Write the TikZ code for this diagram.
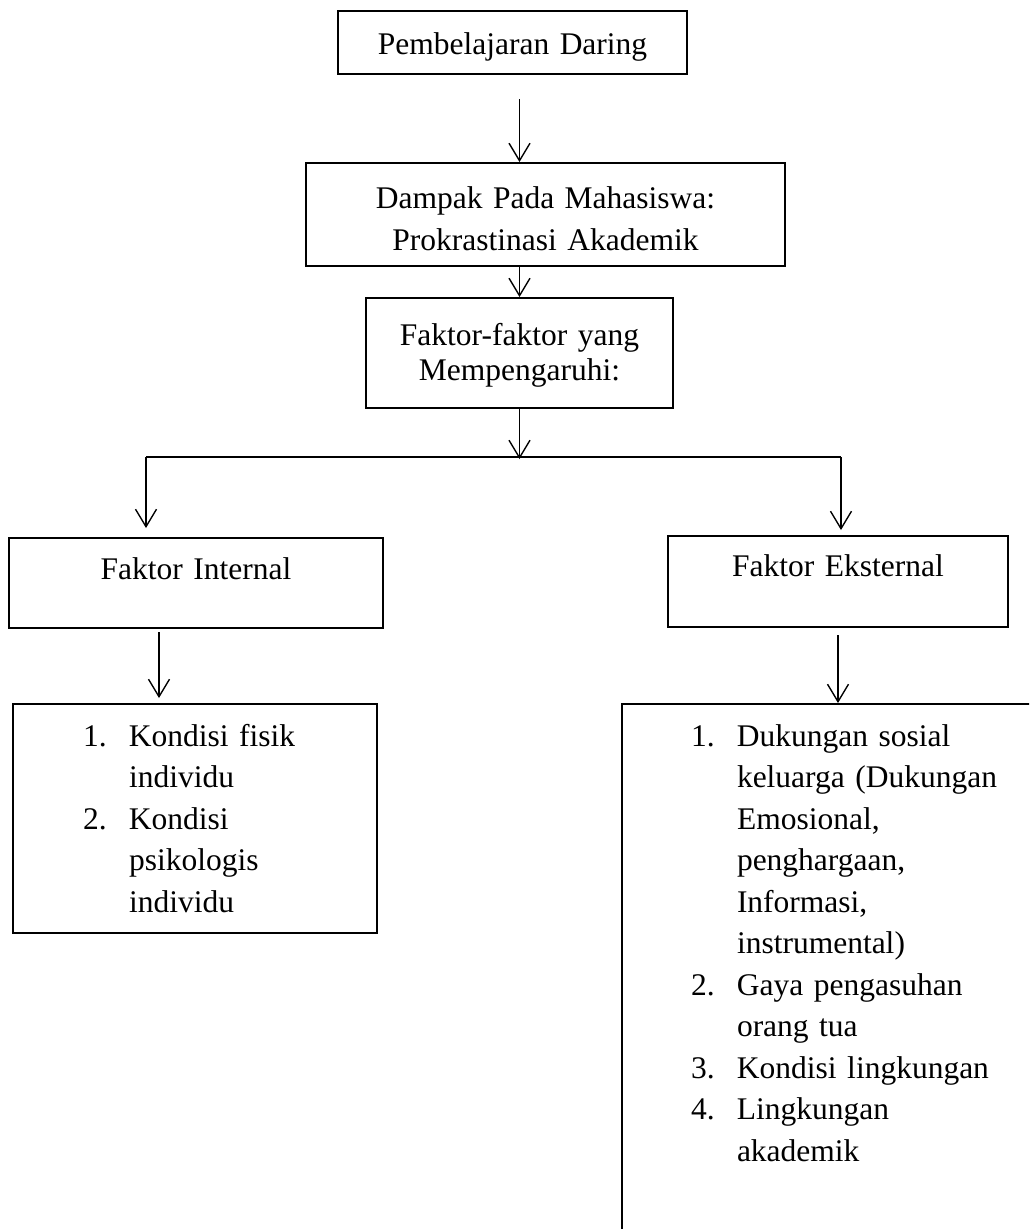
\documentclass[tikz,border=0pt]{standalone}
\usepackage{fontspec}
\setmainfont{Liberation Serif}
\usetikzlibrary{arrows.meta,calc}

\newcommand{\numitem}[1]{\makebox[18.4pt][l]{#1}}
\newcommand{\contline}{\hspace*{18.4pt}}

\begin{document}
\begin{tikzpicture}[
  x=0.4pt,y=-0.4pt,
  box/.style={draw, line width=0.8pt, anchor=north west, inner sep=0pt, align=center, font=\fontsize{12.6}{16.8}\selectfont},
  listbox/.style={box, align=left, inner xsep=28pt, font=\fontsize{12.6}{16.6}\selectfont},
  arr/.style={-{Straight Barb[length=7pt,width=8.4pt]}, line width=0.55pt},
  branch/.style={line width=0.55pt}
]
\clip (0,0) rectangle (1029,1229);
\fill[white] (0,0) rectangle (1029,1229);

\node[box, text width=139.6pt, text height=17.2pt, text depth=8pt] (daring) at (337,10) {Pembelajaran Daring};
\node[box, text width=191.6pt, text height=18pt, text depth=23.2pt] (dampak) at (305,162) {Dampak Pada Mahasiswa:\\Prokrastinasi Akademik};
\node[box, text width=122.8pt, text height=18.8pt, text depth=25.2pt, font=\fontsize{12.6}{14}\selectfont] (faktor) at (365,297) {Faktor-faktor yang\\Mempengaruhi:};
\node[box, text width=149.6pt, text height=16.4pt, text depth=19.6pt] (internal) at (8,537) {Faktor Internal};
\node[box, text width=136pt, text height=16pt, text depth=20.4pt] (eksternal) at (667,535) {Faktor Eksternal};
\node[listbox, text width=89.6pt, text height=16.8pt, text depth=74.8pt] (listint) at (12,703) {\numitem{1.}Kondisi fisik\\\contline individu\\\numitem{2.}Kondisi\\\contline psikologis\\\contline individu};
\node[listbox, inner xsep=27.6pt, text width=136.4pt, text height=16.8pt, text depth=202pt] (listeks) at (621,703) {\numitem{1.}Dukungan sosial\\\contline keluarga (Dukungan\\\contline Emosional,\\\contline penghargaan,\\\contline Informasi,\\\contline instrumental)\\\numitem{2.}Gaya pengasuhan\\\contline orang tua\\\numitem{3.}Kondisi lingkungan\\\numitem{4.}Lingkungan\\\contline akademik};

\coordinate (split) at ([yshift=-20pt]faktor.south);
\coordinate (splitl) at (146,457);
\coordinate (splitr) at (841,457);
\coordinate (intdown) at ([xshift=-14.8pt]internal.south);

\draw[arr, shorten <=9.6pt] (daring.south -| faktor.north) -- (dampak.north -| faktor.north);
\draw[arr] (dampak.south -| faktor.north) -- (faktor.north);
\draw[arr] (faktor.south) -- (split);
\draw[branch] (splitl) -- (splitr);
\draw[arr, shorten >=3.6pt] (splitl) -- (splitl |- internal.north);
\draw[arr, shorten >=2pt] (splitr) -- (splitr |- eksternal.north);
\draw[arr, shorten <=1.2pt, shorten >=2pt] (intdown) -- (intdown |- listint.north);
\draw[arr, shorten <=2.8pt] (eksternal.south) -- (eksternal.south |- listeks.north);
\end{tikzpicture}
\end{document}
